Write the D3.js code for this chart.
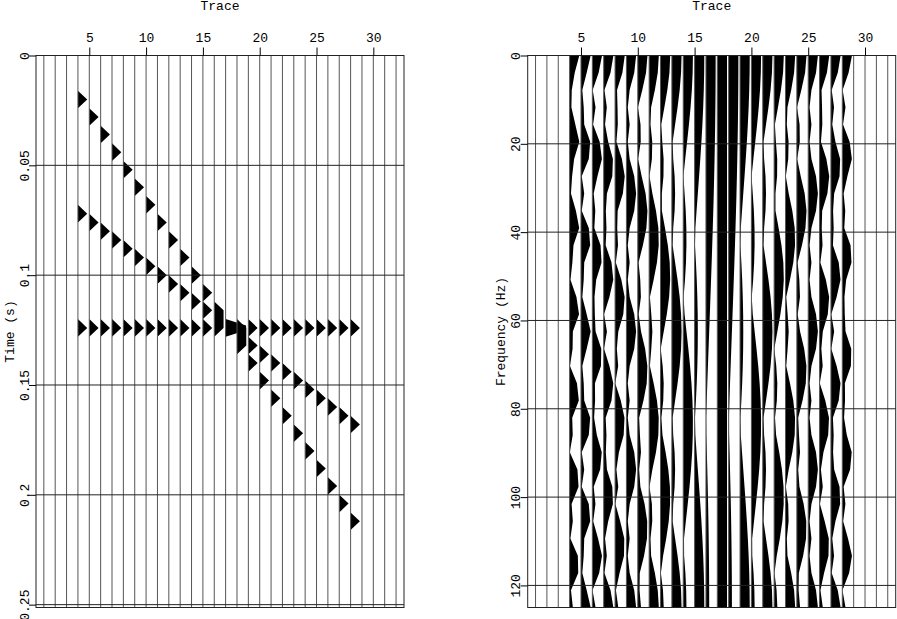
<!DOCTYPE html>
<html>
<head>
<meta charset="utf-8">
<script src="https://cdn.jsdelivr.net/npm/d3@7"></script>
<style>
  body { margin: 0; background: #fff; }
  text { font-family: "Liberation Mono", monospace; font-size: 13px; fill: #000; }
</style>
</head>
<body>
<svg id="chart" width="897" height="619"></svg>
<script>
// gather: 32 traces, 64 samples at 4 ms
var nTraces = 32, nt = 64, dt = 0.004;

// traces that carry events, and the event times
var eventTraces = [4, 5, 6, 7, 8, 9, 10, 11, 12, 13, 14, 15, 16, 17, 18, 19, 20, 21, 22, 23, 24, 25, 26, 27, 28];
var flatTimes = [0.124, 0.124, 0.124, 0.124, 0.124, 0.124, 0.124, 0.124, 0.124, 0.124, 0.124, 0.124, 0.124,
                 0.124, 0.124, 0.124, 0.124, 0.124, 0.124, 0.124, 0.124, 0.124, 0.124, 0.124, 0.124];
var steepTimes = [0.020, 0.028, 0.036, 0.044, 0.052, 0.060, 0.068, 0.076, 0.084, 0.092, 0.100, 0.108, 0.116,
                  0.124, 0.132, 0.140, 0.148, 0.156, 0.164, 0.172, 0.180, 0.188, 0.196, 0.204, 0.212];
var dipTimes = [0.072, 0.076, 0.080, 0.084, 0.088, 0.092, 0.096, 0.100, 0.104, 0.108, 0.112, 0.116, 0.120,
                0.124, 0.128, 0.132, 0.136, 0.140, 0.144, 0.148, 0.152, 0.156, 0.160, 0.164, 0.168];

var traceTicks = [5, 10, 15, 20, 25, 30];
var timeTicks = [0, 0.05, 0.1, 0.15, 0.2, 0.25];
var freqTicks = [0, 20, 40, 60, 80, 100, 120];

var svg = d3.select("#chart");
var plotTop = 55.5, plotBottom = 607.5;

// build the spike gather
var gather = d3.range(nTraces).map(function () { return d3.range(nt).map(function () { return 0; }); });
[flatTimes, steepTimes, dipTimes].forEach(function (ts) {
  ts.forEach(function (t, i) {
    gather[eventTraces[i] - 1][Math.round(t / dt)] += 1;
  });
});
var times = d3.range(nt).map(function (i) { return i * dt; });

// amplitude spectrum of each trace (64 point DFT, 0..125 Hz)
var nf = nt / 2 + 1, df = 1 / (nt * dt);
var freqs = d3.range(nf).map(function (k) { return k * df; });
var spectra = gather.map(function (tr) {
  return freqs.map(function (f) {
    var re = 0, im = 0;
    tr.forEach(function (v, i) {
      if (v) {
        re += v * Math.cos(2 * Math.PI * f * times[i]);
        im -= v * Math.sin(2 * Math.PI * f * times[i]);
      }
    });
    return Math.sqrt(re * re + im * im);
  });
});

// positive fill polygon, clipped at 0 and at clip
function wiggle(vals, ys, clip) {
  var pts = [[0, ys[0]]];
  vals.forEach(function (b, i) {
    if (i > 0) {
      var a = vals[i - 1], cross = [];
      [0, clip].forEach(function (lev) {
        if ((a - lev) * (b - lev) < 0) cross.push((lev - a) / (b - a));
      });
      cross.sort(d3.ascending).forEach(function (f) {
        var v = a + f * (b - a);
        pts.push([Math.max(0, Math.min(clip, v)), ys[i - 1] + f * (ys[i] - ys[i - 1])]);
      });
    }
    pts.push([Math.max(0, Math.min(clip, b)), ys[i]]);
  });
  pts.push([0, ys[ys.length - 1]]);
  return pts;
}

function panel(opt) {
  var x = d3.scaleLinear().domain([0.31, 32.70]).range([opt.left, opt.left + 368]);
  var y = d3.scaleLinear().domain(opt.yDomain).range([plotTop, plotBottom]);
  var g = svg.append("g");

  // wiggles
  opt.data.forEach(function (tr, k) {
    var ys = opt.samples.map(y);
    var pts = wiggle(tr, ys, opt.clip);
    g.append("path")
      .attr("d", d3.line()
        .x(function (p) { return x(k + 1) + p[0] * opt.gain; })
        .y(function (p) { return p[1]; })(pts) + "Z")
      .attr("fill", "#000");
  });

  // trace baselines
  g.selectAll("line.trace")
    .data(d3.range(1, nTraces + 1))
    .enter().append("line")
    .attr("class", "trace")
    .attr("x1", function (d) { return x(d); })
    .attr("x2", function (d) { return x(d); })
    .attr("y1", plotTop).attr("y2", plotBottom)
    .attr("stroke", "#555").attr("stroke-width", 1);

  // horizontal grid
  g.selectAll("line.grid")
    .data(opt.ticks)
    .enter().append("line")
    .attr("class", "grid")
    .attr("x1", x.range()[0]).attr("x2", x.range()[1])
    .attr("y1", function (d) { return y(d); })
    .attr("y2", function (d) { return y(d); })
    .attr("stroke", "#222").attr("stroke-width", 1);

  g.append("rect")
    .attr("x", x.range()[0]).attr("y", plotTop)
    .attr("width", 368).attr("height", plotBottom - plotTop)
    .attr("fill", "none").attr("stroke", "#222").attr("stroke-width", 1);

  // top axis
  var ax = g.append("g").attr("transform", "translate(0," + plotTop + ")")
    .call(d3.axisTop(x).tickValues(traceTicks).tickSize(8).tickPadding(6));
  ax.select(".domain").remove();
  ax.selectAll("text").attr("font-family", null).attr("font-size", null);

  // left axis, labels rotated
  var ay = g.append("g").attr("transform", "translate(" + x.range()[0] + ",0)")
    .call(d3.axisLeft(y).tickValues(opt.ticks).tickSize(7)
      .tickFormat(function (d) { return String(d); }));
  ay.select(".domain").remove();
  ay.selectAll("text")
    .attr("font-family", null).attr("font-size", null)
    .attr("x", 0).attr("dy", 0)
    .attr("text-anchor", "middle")
    .attr("transform", "translate(-7.5,0) rotate(-90)");

  g.append("text")
    .attr("x", x.range()[0] + 184).attr("y", 10)
    .attr("text-anchor", "middle")
    .text("Trace");

  g.append("text")
    .attr("transform", "translate(" + (x.range()[0] - 22.5) + "," + ((plotTop + plotBottom) / 2) + ") rotate(-90)")
    .attr("text-anchor", "middle")
    .text(opt.label);
}

panel({
  left: 36, yDomain: [0, 0.2513], samples: times, data: gather,
  gain: 9.3, clip: 2.2, ticks: timeTicks, label: "Time (s)"
});
panel({
  left: 527.7, yDomain: [0, 125], samples: freqs, data: spectra,
  gain: 3.23, clip: 3.5, ticks: freqTicks, label: "Frequency (Hz)"
});
</script>
</body>
</html>
